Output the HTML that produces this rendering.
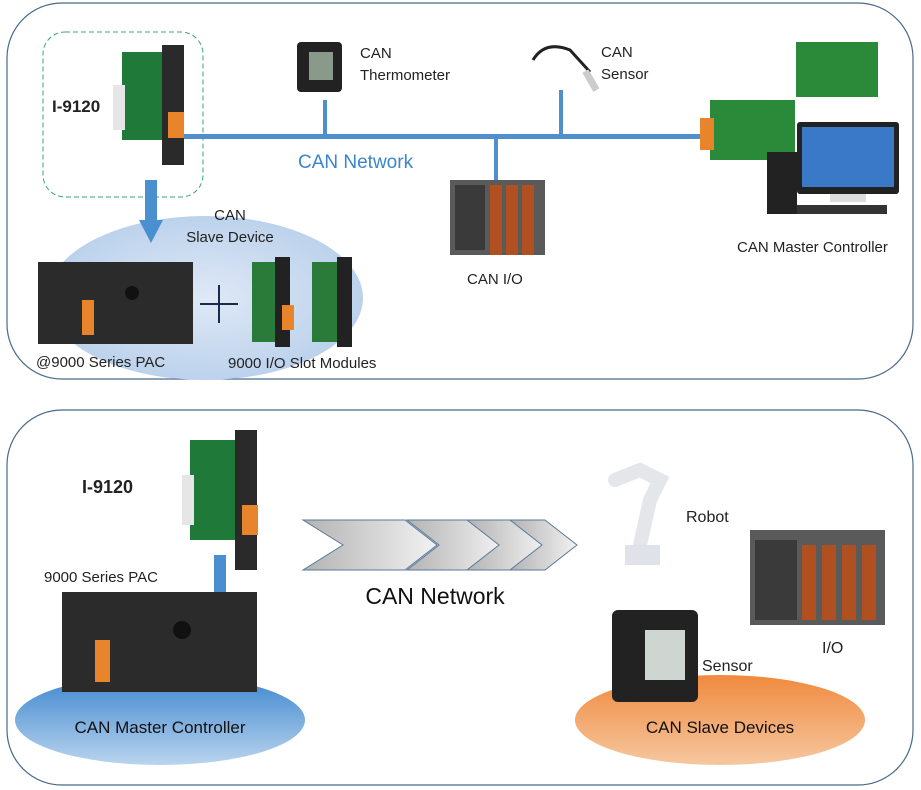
<!DOCTYPE html>
<html><head><meta charset="utf-8"><style>
html,body{margin:0;padding:0;background:#fff;}
svg{display:block;font-family:"Liberation Sans",sans-serif;}
</style></head><body>
<svg width="921" height="790" viewBox="0 0 921 790" xmlns="http://www.w3.org/2000/svg">
<defs>
<radialGradient id="blueE" cx="50%" cy="50%" r="50%"><stop offset="0" stop-color="#dfe9f6"/><stop offset="1" stop-color="#bcd2ec"/></radialGradient>
<linearGradient id="blueB" x1="0" y1="0" x2="0" y2="1"><stop offset="0" stop-color="#3e86cf"/><stop offset="1" stop-color="#b9d4ee"/></linearGradient>
<linearGradient id="orgB" x1="0" y1="0" x2="0" y2="1"><stop offset="0" stop-color="#f08a3e"/><stop offset="1" stop-color="#f6c7a0"/></linearGradient>
<linearGradient id="chev" x1="0" y1="0" x2="1" y2="0"><stop offset="0" stop-color="#b3b3b3"/><stop offset="1" stop-color="#f2f2f2"/></linearGradient>
</defs>
<!-- panels -->
<rect x="7" y="3" width="906" height="376" rx="55" fill="none" stroke="#4a6a8a" stroke-width="1.2"/>
<rect x="7" y="410" width="906" height="375" rx="55" fill="none" stroke="#4a6a8a" stroke-width="1.2"/>

<!-- top panel -->
<ellipse cx="205" cy="298" rx="158" ry="82" fill="url(#blueE)"/>
<rect x="43" y="32" width="160" height="165" rx="22" fill="none" stroke="#3aa57a" stroke-width="1" stroke-dasharray="5,3"/>
<text x="52" y="112" font-size="17" font-weight="bold" fill="#222">I-9120</text>
<!-- I-9120 card -->
<rect x="122" y="52" width="45" height="88" fill="#1f7a3a"/>
<rect x="113" y="85" width="12" height="45" fill="#e6e6e6"/>
<rect x="162" y="45" width="22" height="120" fill="#2a2a2a"/>
<rect x="168" y="112" width="16" height="26" fill="#e8842b"/>
<!-- bus -->
<rect x="184" y="134" width="520" height="5" fill="#4f8fcd"/>
<rect x="323" y="100" width="4" height="36" fill="#4f8fcd"/>
<rect x="559" y="90" width="4" height="46" fill="#4f8fcd"/>
<rect x="494" y="138" width="4" height="42" fill="#4f8fcd"/>
<text x="298" y="168" font-size="19" fill="#3a86c8">CAN  Network</text>
<!-- blue arrow -->
<rect x="145" y="180" width="12" height="40" fill="#4a8fd0"/>
<polygon points="139,220 163,220 151,243" fill="#4a8fd0"/>
<text x="230" y="220" font-size="15" fill="#222" text-anchor="middle">CAN</text>
<text x="230" y="242" font-size="15" fill="#222" text-anchor="middle">Slave Device</text>
<!-- PAC -->
<rect x="38" y="262" width="155" height="82" fill="#2b2b2b"/>
<rect x="82" y="300" width="12" height="35" fill="#e8842b"/>
<circle cx="132" cy="293" r="7" fill="#111"/>
<line x1="200" y1="304" x2="238" y2="304" stroke="#1a2a4a" stroke-width="2"/>
<line x1="219" y1="285" x2="219" y2="323" stroke="#1a2a4a" stroke-width="2"/>
<rect x="252" y="262" width="28" height="80" fill="#2a7a3a"/>
<rect x="275" y="257" width="15" height="90" fill="#222"/>
<rect x="282" y="305" width="12" height="25" fill="#e8842b"/>
<rect x="312" y="262" width="28" height="80" fill="#2a7a3a"/>
<rect x="337" y="257" width="15" height="90" fill="#222"/>
<text x="36" y="367" font-size="15" fill="#222">@9000 Series PAC</text>
<text x="228" y="368" font-size="15" fill="#222">9000 I/O Slot Modules</text>
<!-- thermometer -->
<rect x="297" y="42" width="45" height="50" rx="4" fill="#222"/>
<rect x="309" y="52" width="24" height="28" fill="#8a9a8a"/>
<text x="360" y="58" font-size="15" fill="#222">CAN</text>
<text x="360" y="80" font-size="15" fill="#222">Thermometer</text>
<!-- sensor -->
<path d="M533 60 Q 545 40 570 50 L 590 72" fill="none" stroke="#222" stroke-width="3"/>
<rect x="587" y="70" width="7" height="22" fill="#ccc" transform="rotate(-30 590 80)"/>
<text x="601" y="57" font-size="15" fill="#222">CAN</text>
<text x="601" y="79" font-size="15" fill="#222">Sensor</text>
<!-- CAN I/O -->
<rect x="450" y="180" width="95" height="75" fill="#5a5a5a"/>
<rect x="455" y="185" width="30" height="65" fill="#3a3a3a"/>
<rect x="490" y="185" width="12" height="70" fill="#b05020"/>
<rect x="506" y="185" width="12" height="70" fill="#b05020"/>
<rect x="522" y="185" width="12" height="70" fill="#b05020"/>
<text x="467" y="284" font-size="15" fill="#222">CAN I/O</text>
<!-- master controller -->
<rect x="796" y="42" width="82" height="55" fill="#2b8a3a"/>
<rect x="710" y="100" width="85" height="60" fill="#2b8a3a"/>
<rect x="700" y="118" width="14" height="32" fill="#e8842b"/>
<rect x="767" y="152" width="30" height="62" fill="#222"/>
<rect x="797" y="122" width="102" height="72" rx="3" fill="#222"/>
<rect x="802" y="127" width="92" height="60" fill="#3a78c8"/>
<rect x="830" y="194" width="36" height="8" fill="#ddd"/>
<rect x="797" y="205" width="90" height="9" fill="#333"/>
<text x="737" y="252" font-size="15" fill="#222">CAN Master Controller</text>

<!-- bottom panel -->
<ellipse cx="160" cy="720" rx="145" ry="45" fill="url(#blueB)"/>
<text x="160" y="733" font-size="17" fill="#111" text-anchor="middle">CAN Master Controller</text>
<ellipse cx="720" cy="720" rx="145" ry="45" fill="url(#orgB)"/>
<text x="720" y="733" font-size="17" fill="#111" text-anchor="middle">CAN Slave Devices</text>
<text x="82" y="493" font-size="18" font-weight="bold" fill="#222">I-9120</text>
<!-- I-9120 card -->
<rect x="190" y="440" width="50" height="100" fill="#1f7a3a"/>
<rect x="182" y="475" width="12" height="50" fill="#e6e6e6"/>
<rect x="235" y="430" width="22" height="140" fill="#2a2a2a"/>
<rect x="242" y="505" width="16" height="30" fill="#e8842b"/>
<rect x="214" y="555" width="12" height="45" fill="#4a8fd0"/>
<polygon points="207,600 233,600 220,624" fill="#4a8fd0"/>
<text x="44" y="582" font-size="15" fill="#222">9000 Series PAC</text>
<rect x="62" y="592" width="195" height="100" fill="#2b2b2b"/>
<rect x="95" y="640" width="15" height="42" fill="#e8842b"/>
<circle cx="182" cy="630" r="9" fill="#111"/>
<!-- chevrons -->
<g fill="url(#chev)" stroke="#5a7a9a" stroke-width="1">
<polygon points="303,520 405,520 437,545 405,570 303,570 343,545"/>
<polygon points="407,520 470,520 502,545 470,570 407,570 439,545"/>
<polygon points="467,520 512,520 544,545 512,570 467,570 499,545"/>
<polygon points="510,520 545,520 577,545 545,570 510,570 542,545"/>
</g>
<text x="435" y="604" font-size="23" fill="#111" text-anchor="middle">CAN Network</text>
<!-- robot -->
<path d="M615 480 L640 470 L660 480 L650 500 L640 545" fill="none" stroke="#e4e6ea" stroke-width="14" stroke-linecap="round"/>
<rect x="625" y="545" width="35" height="20" fill="#dfe2e8"/>
<text x="686" y="522" font-size="16" fill="#222">Robot</text>
<!-- IO -->
<rect x="750" y="530" width="135" height="95" fill="#5a5a5a"/>
<rect x="755" y="540" width="42" height="80" fill="#3a3a3a"/>
<rect x="802" y="545" width="14" height="75" fill="#b05020"/>
<rect x="822" y="545" width="14" height="75" fill="#b05020"/>
<rect x="842" y="545" width="14" height="75" fill="#b05020"/>
<rect x="862" y="545" width="14" height="75" fill="#b05020"/>
<text x="822" y="653" font-size="16" fill="#222">I/O</text>
<!-- sensor -->
<rect x="612" y="610" width="86" height="92" rx="6" fill="#222"/>
<rect x="645" y="630" width="40" height="50" fill="#cfd5d0"/>
<text x="702" y="671" font-size="16" fill="#222">Sensor</text>
</svg>
</body></html>
